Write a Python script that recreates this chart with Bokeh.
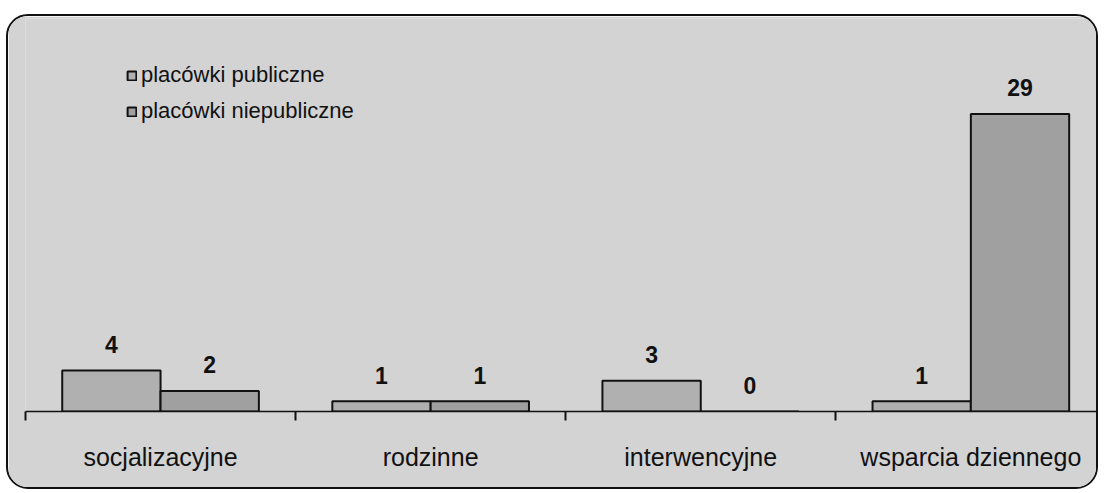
from bokeh.plotting import figure
from bokeh.models import ColumnDataSource, FixedTicker, Range1d, Legend, LegendItem
from bokeh.transform import dodge
from bokeh.core.properties import value
from bokeh.embed import file_html
from bokeh.resources import INLINE

categories = ["socjalizacyjne", "rodzinne", "interwencyjne", "wsparcia dziennego"]
publiczne = [4, 1, 3, 1]
niepubliczne = [2, 1, 0, 29]
series_names = ["placówki publiczne", "placówki niepubliczne"]

centers = [i + 0.5 for i in range(len(categories))]
boundaries = [float(i) for i in range(len(categories) + 1)]

src = ColumnDataSource(dict(
    x=centers,
    pub=publiczne,
    npub=niepubliczne,
    pub_t=[str(v) for v in publiczne],
    npub_t=[str(v) for v in niepubliczne],
))

FONT = "Liberation Sans"
BG = "#d3d3d3"

p = figure(width=1092, height=475, output_backend="svg", toolbar_location=None,
           x_range=Range1d(0, 3.98), y_range=Range1d(0, 38.3),
           y_axis_location=None, min_border_left=17, min_border_right=0,
           min_border_top=2, min_border_bottom=80)
p.styles = {"border": "2px solid #111", "border-radius": "22px", "overflow": "hidden",
            "margin-top": "14px", "margin-left": "6px"}
p.background_fill_color = BG
p.border_fill_color = BG
p.outline_line_color = None
p.xgrid.visible = False
p.ygrid.visible = False

w = 0.364
r1 = p.vbar(x=dodge("x", -w / 2, range=p.x_range), top="pub", width=w, source=src,
            fill_color="#b0b0b0", line_color="#111111", line_width=2)
r2 = p.vbar(x=dodge("x", w / 2, range=p.x_range), top="npub", width=w, source=src,
            fill_color="#a0a0a0", line_color="#111111", line_width=2)

for col, off in (("pub_t", -w / 2), ("npub_t", w / 2)):
    p.text(x=dodge("x", off, range=p.x_range), y=col.replace("_t", ""), text=col, source=src,
           text_font=value(FONT), text_font_size="23px", text_font_style="bold",
           text_align="center", text_baseline="alphabetic", y_offset=-26, text_color="#111111")

ax = p.xaxis[0]
ax.ticker = FixedTicker(ticks=centers, minor_ticks=boundaries)
ax.major_label_overrides = {c: n for c, n in zip(centers, categories)}
ax.major_tick_out = 0
ax.major_tick_in = 0
ax.minor_tick_out = 9
ax.minor_tick_in = 0
ax.minor_tick_line_width = 2
ax.minor_tick_line_color = "#111111"
ax.axis_line_color = "#111111"
ax.axis_line_width = 1.5
ax.major_label_standoff = 22
ax.major_label_text_font = FONT
ax.major_label_text_font_size = "25px"
ax.major_label_text_color = "#111111"

legend = Legend(items=[LegendItem(label=series_names[0], renderers=[r1]),
                       LegendItem(label=series_names[1], renderers=[r2])],
                location=(101, 287), orientation="vertical",
                background_fill_alpha=0, border_line_color=None,
                glyph_width=11, glyph_height=11, label_height=25, spacing=10,
                padding=0, label_standoff=4,
                label_text_font=FONT, label_text_font_size="22px", label_text_color="#111111")
p.add_layout(legend)

open("out.html", "w").write(file_html(p, INLINE))
